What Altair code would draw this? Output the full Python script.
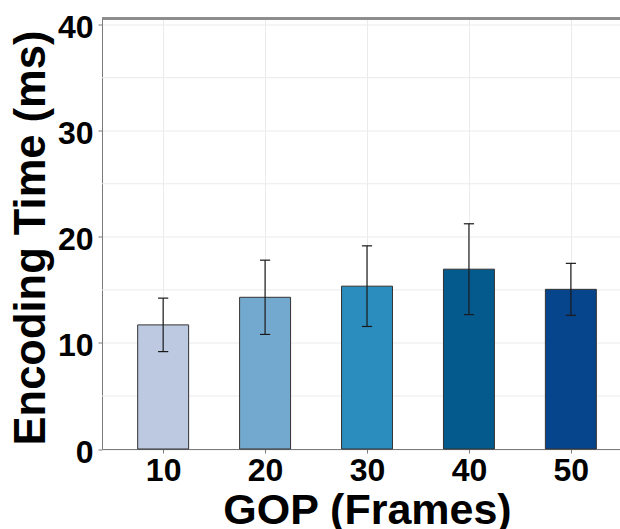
import altair as alt
import pandas as pd

# Encoding time per GOP length (mean ± sd, ms)
gop = [10, 20, 30, 40, 50]
enc_mean = [11.7, 14.3, 15.35, 16.95, 15.05]
enc_sd = [2.52, 3.5, 3.8, 4.28, 2.45]
bar_colors = ["#BDC9E1", "#74A9CF", "#2B8CBE", "#045A8D", "#06448C"]
y_major = [0, 10, 20, 30, 40]
y_minor = [5, 15, 25, 35]

FONT = "Liberation Sans"
GRID = "#EBEBEB"
AXIS = "#7A7A7A"
W, H = 518, 430.5

df = pd.DataFrame({"gop": gop, "mean": enc_mean, "sd": enc_sd, "color": bar_colors})
minor_df = pd.DataFrame({"v": y_minor})

x_scale = alt.Scale(domain=[4, 54.82], nice=False, zero=False)
y_scale = alt.Scale(domain=[0, 40.58], nice=False, zero=False)

x_axis = alt.Axis(
    values=gop, grid=True, gridColor=GRID, gridWidth=1,
    domainColor=AXIS, tickColor=AXIS, tickSize=4, tickWidth=1,
    labelFont=FONT, labelFontSize=32, labelFontWeight="bold", labelColor="black",
    labelBaseline="top", labelPadding=2,
    title="GOP (Frames)", titleFont=FONT, titleFontSize=43, titleFontWeight="bold",
    titleColor="black", titleX=265, titleY=74, titleBaseline="alphabetic", titleAlign="center",
)
y_axis = alt.Axis(
    values=y_major, grid=True, gridColor=GRID, gridWidth=1,
    domainColor=AXIS, tickColor=AXIS, tickSize=4, tickWidth=1,
    labelFont=FONT, labelFontSize=32, labelFontWeight="bold", labelColor="black",
    labelPadding=5, labelOffset=3,
    title="Encoding Time (ms)", titleFont=FONT, titleFontSize=43.5, titleFontWeight="bold",
    titleColor="black", titleAngle=270, titleX=-58, titleY=219,
    titleBaseline="alphabetic", titleAlign="center",
)

base = alt.Chart(df).transform_calculate(
    lo="datum.gop - 2.5", hi="datum.gop + 2.5",
    cl="datum.gop - 0.5", cr="datum.gop + 0.5",
    elo="datum.mean - datum.sd", ehi="datum.mean + datum.sd",
)

# minor horizontal grid at the half-way breaks
minor_grid = alt.Chart(minor_df).mark_rule(color=GRID, strokeWidth=1).encode(
    y=alt.Y("v:Q", scale=y_scale, axis=y_axis, title="Encoding Time (ms)")
)

bars = base.mark_bar(stroke="#333333", strokeWidth=1).encode(
    x=alt.X("lo:Q", scale=x_scale, axis=x_axis, title="GOP (Frames)"),
    x2="hi:Q",
    y=alt.Y("mean:Q", scale=y_scale, axis=y_axis, title="Encoding Time (ms)"),
    y2=alt.datum(0),
    color=alt.Color("color:N", scale=None),
)

err_line = base.mark_rule(color="#1a1a1a", strokeWidth=1.2).encode(
    x=alt.X("gop:Q", scale=x_scale), y=alt.Y("elo:Q", scale=y_scale), y2="ehi:Q"
)
cap_hi = base.mark_rule(color="#1a1a1a", strokeWidth=1.2).encode(
    x=alt.X("cl:Q", scale=x_scale), x2="cr:Q", y=alt.Y("ehi:Q", scale=y_scale)
)
cap_lo = base.mark_rule(color="#1a1a1a", strokeWidth=1.2).encode(
    x=alt.X("cl:Q", scale=x_scale), x2="cr:Q", y=alt.Y("elo:Q", scale=y_scale)
)

top_border = alt.Chart(df).mark_rule(color="#8C8C8C", strokeWidth=1.8).encode(
    x=alt.value(0), x2=alt.value(W), y=alt.value(0)
)

chart = alt.layer(minor_grid, bars, err_line, cap_hi, cap_lo, top_border).properties(
    width=W, height=H,
    autosize=alt.AutoSizeParams(type="none"),
    padding={"left": 102, "top": 18.5, "right": 0, "bottom": 80},
).configure_view(stroke=None).configure(background="white")

chart.save("out.html", embed_options={"renderer": "svg", "actions": False})
